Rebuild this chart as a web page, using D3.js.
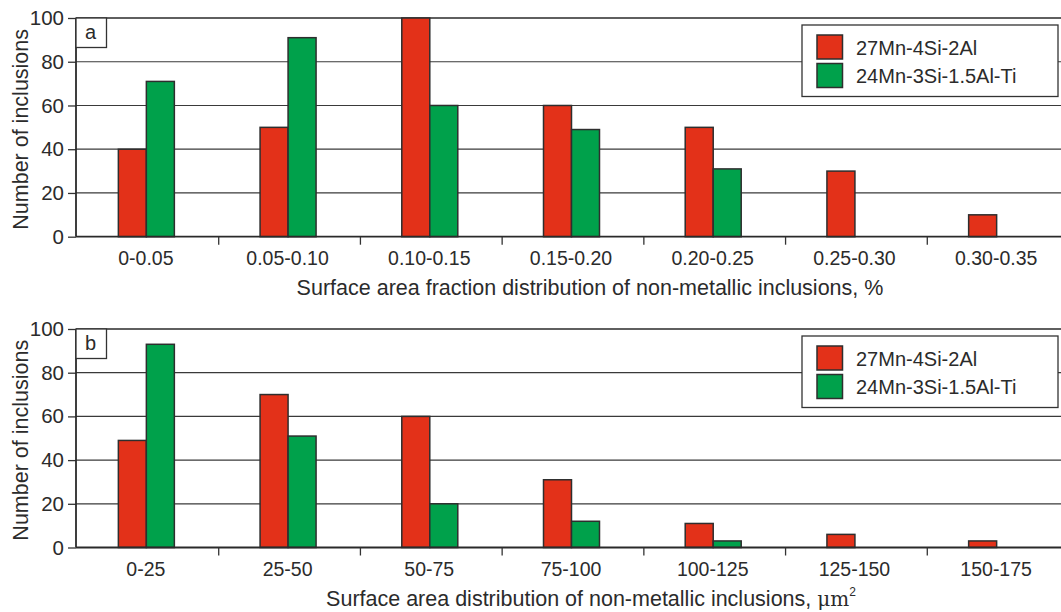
<!DOCTYPE html>
<html>
<head>
<meta charset="utf-8">
<script src="https://cdn.jsdelivr.net/npm/d3@7"></script>
<style>
  body { margin: 0; background: #fff; }
  svg { display: block; font-family: "Liberation Sans", Arial, sans-serif; }
</style>
</head>
<body>
<svg id="chart" width="1061" height="612"></svg>
<script>
// data
var seriesNames = ["27Mn-4Si-2Al", "24Mn-3Si-1.5Al-Ti"];
var seriesColors = ["#e33119", "#00a14b"];

var fractionBins = ["0-0.05", "0.05-0.10", "0.10-0.15", "0.15-0.20", "0.20-0.25", "0.25-0.30", "0.30-0.35"];
var fractionRed = [40, 50, 100, 60, 50, 30, 10];
var fractionGreen = [71, 91, 60, 49, 31, 0, 0];

var areaBins = ["0-25", "25-50", "50-75", "75-100", "100-125", "125-150", "150-175"];
var areaRed = [49, 70, 60, 31, 11, 6, 3];
var areaGreen = [93, 51, 20, 12, 3, 0, 0];

var yTicks = [0, 20, 40, 60, 80, 100];

var svg = d3.select("#chart");

function drawPanel(opt) {
    var top = opt.top, bottom = opt.bottom, left = 76;

    var x = d3.scaleBand()
        .domain(opt.bins)
        .range([77, 1069])
        .padding(0);

    var inner = d3.scaleBand()
        .domain([0, 1])
        .range([-28, 28]);

    var y = d3.scaleLinear()
        .domain([0, 100])
        .range([bottom, top]);

    var g = svg.append("g");

    // horizontal grid lines
    g.selectAll(".grid")
        .data(yTicks.filter(d => d > 0 && d < 100))
        .enter()
        .append("line")
        .attr("x1", left)
        .attr("x2", 1061)
        .attr("y1", d => y(d))
        .attr("y2", d => y(d))
        .attr("stroke", "#3a3a3a")
        .attr("stroke-width", 1.2);

    // top border
    g.append("line")
        .attr("x1", left).attr("x2", 1061)
        .attr("y1", y(100)).attr("y2", y(100))
        .attr("stroke", "#2a2a2a")
        .attr("stroke-width", 1.6);

    // bars
    var rows = opt.bins.map((b, i) => ({ bin: b, vals: [opt.red[i], opt.green[i]] }));
    var groups = g.selectAll(".grp")
        .data(rows)
        .enter()
        .append("g")
        .attr("transform", d => `translate(${x(d.bin) + x.bandwidth() / 2 - 1.5},0)`);

    groups.selectAll("rect")
        .data(d => d.vals.map((v, k) => ({ k: k, v: v })).filter(e => e.v > 0))
        .enter()
        .append("rect")
        .attr("x", d => inner(d.k))
        .attr("y", d => y(d.v))
        .attr("width", inner.bandwidth())
        .attr("height", d => y(0) - y(d.v))
        .attr("fill", d => seriesColors[d.k])
        .attr("stroke", "#2e2e2e")
        .attr("stroke-width", 1.5);

    // y axis
    var yAxis = d3.axisLeft(y)
        .tickValues(yTicks)
        .tickSize(8)
        .tickPadding(4)
        .tickFormat(d3.format("d"));
    var ya = g.append("g")
        .attr("transform", `translate(${left},0)`)
        .call(yAxis);
    ya.select(".domain").remove();
    ya.selectAll(".tick line").attr("stroke", "#333").attr("stroke-width", 1.3);
    ya.selectAll("text")
        .attr("font-size", "20.5px")
        .attr("fill", "#2b2b2b")
        .attr("font-family", "Liberation Sans, Arial, sans-serif");

    g.append("line")
        .attr("x1", left).attr("x2", left)
        .attr("y1", y(100)).attr("y2", y(0))
        .attr("stroke", "#2a2a2a")
        .attr("stroke-width", 1.8);

    // x axis
    g.append("line")
        .attr("x1", left).attr("x2", 1061)
        .attr("y1", y(0)).attr("y2", y(0))
        .attr("stroke", "#2a2a2a")
        .attr("stroke-width", 1.8);

    g.selectAll(".xtick")
        .data(opt.bins.slice(1))
        .enter()
        .append("line")
        .attr("x1", d => x(d)).attr("x2", d => x(d))
        .attr("y1", y(0)).attr("y2", y(0) + 8)
        .attr("stroke", "#333")
        .attr("stroke-width", 1.3);

    g.selectAll(".xlab")
        .data(opt.bins)
        .enter()
        .append("text")
        .attr("x", d => x(d) + x.bandwidth() / 2 - 2)
        .attr("y", y(0) + 28)
        .attr("text-anchor", "middle")
        .attr("font-size", "19.5px")
        .attr("fill", "#2b2b2b")
        .text(d => d);

    // axis titles
    var xt = g.append("text")
        .attr("x", opt.unit ? 591 : 590)
        .attr("y", y(0) + 58)
        .attr("text-anchor", "middle")
        .attr("font-size", "21.5px")
        .attr("fill", "#2b2b2b");
    xt.append("tspan").text(opt.title);
    if (opt.unit) {
        xt.append("tspan").text("μm").attr("font-family", "DejaVu Serif, serif").attr("font-size", "20px");
        xt.append("tspan").text("2").attr("font-size", "12px").attr("dy", "-10");
    }

    g.append("text")
        .attr("transform", `translate(28,${(top + bottom) / 2 + 2}) rotate(-90)`)
        .attr("text-anchor", "middle")
        .attr("font-size", "21.5px")
        .attr("fill", "#2b2b2b")
        .text("Number of inclusions");

    // panel letter
    g.append("rect")
        .attr("x", left).attr("y", top)
        .attr("width", 30.5).attr("height", 29.5)
        .attr("fill", "#fff")
        .attr("stroke", "#333")
        .attr("stroke-width", 1.3);
    g.append("text")
        .attr("x", left + 9).attr("y", top + 21)
        .attr("font-size", "20px")
        .attr("fill", "#2b2b2b")
        .text(opt.letter);

    // legend
    var lg = g.append("g").attr("transform", `translate(802,${top + 7})`);
    lg.append("rect")
        .attr("width", 256).attr("height", 71.5)
        .attr("fill", "#fff")
        .attr("stroke", "#333")
        .attr("stroke-width", 1.3);
    var items = lg.selectAll(".item")
        .data(seriesNames)
        .enter()
        .append("g")
        .attr("transform", (d, i) => `translate(15,${10 + i * 28.5})`);
    items.append("rect")
        .attr("width", 25.5).attr("height", 24)
        .attr("fill", (d, i) => seriesColors[i])
        .attr("stroke", "#2e2e2e")
        .attr("stroke-width", 1.5);
    items.append("text")
        .attr("x", 39).attr("y", 19.5)
        .attr("font-size", "20px")
        .attr("fill", "#2b2b2b")
        .text(d => d);
}

drawPanel({
    top: 18, bottom: 236.7, letter: "a",
    bins: fractionBins, red: fractionRed, green: fractionGreen,
    title: "Surface area fraction distribution of non-metallic inclusions, %"
});

drawPanel({
    top: 329, bottom: 547.5, letter: "b",
    bins: areaBins, red: areaRed, green: areaGreen,
    title: "Surface area distribution of non-metallic inclusions, ", unit: true
});
</script>
</body>
</html>
